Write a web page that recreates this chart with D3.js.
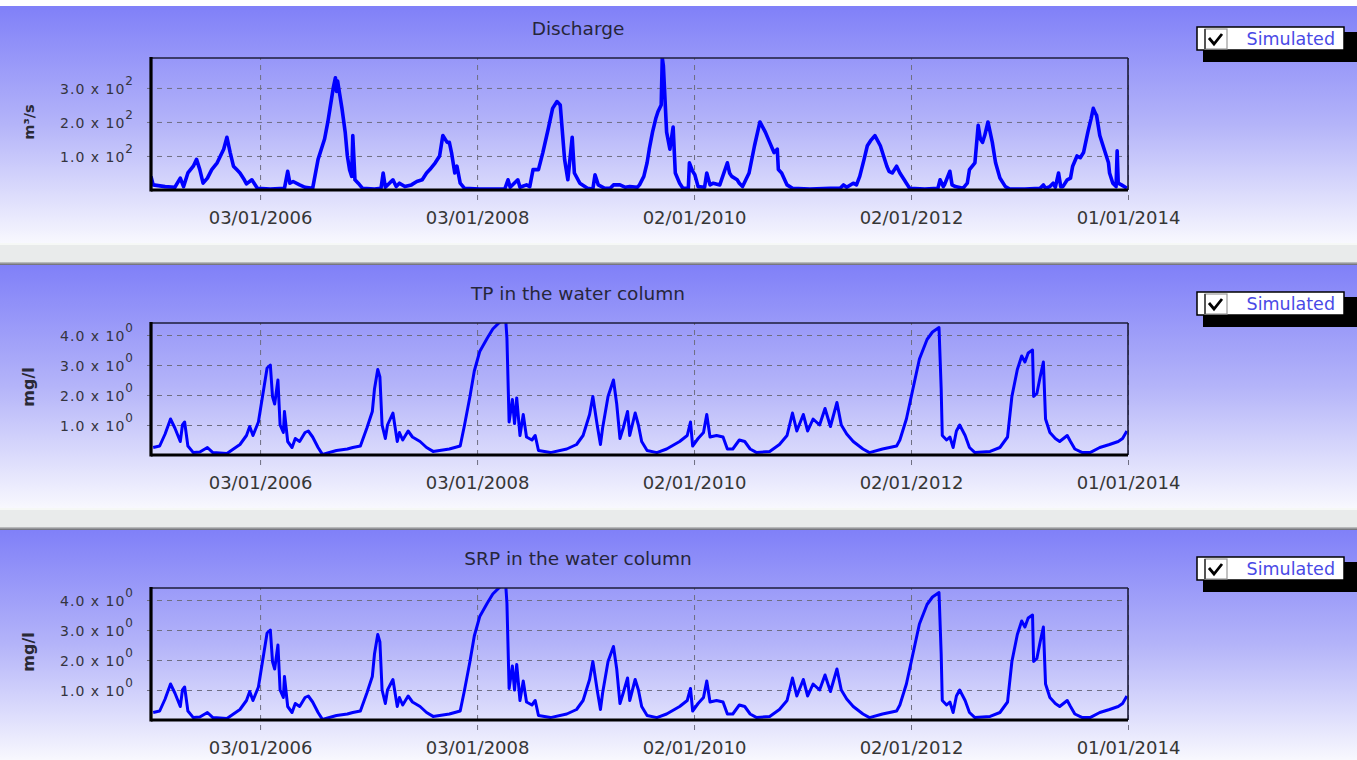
<!DOCTYPE html>
<html>
<head>
<meta charset="utf-8">
<script src="https://cdn.jsdelivr.net/npm/d3@7"></script>
<style>
  html, body { margin: 0; padding: 0; background: #ffffff; overflow: hidden; }
  svg { display: block; }
</style>
</head>
<body>
<svg id="chart" width="1357" height="760"></svg>
<script>
// ---- Data -----------------------------------------------------------------
// Time stamps are decimal years; values in the units of each panel.
const dischargeYears = [2005.00,2005.02,2005.13,2005.22,2005.27,2005.30,2005.34,2005.39,2005.42,2005.45,2005.48,2005.52,2005.56,2005.61,2005.64,2005.67,2005.70,2005.73,2005.76,2005.79,2005.82,2005.86,2005.88,2005.93,2005.98,
  2006.10,2006.23,2006.26,2006.28,2006.31,2006.37,2006.42,2006.49,2006.54,2006.58,2006.60,2006.63,2006.65,2006.68,2006.70,2006.71,2006.72,2006.74,2006.76,2006.79,2006.81,2006.83,2006.85,2006.86,2006.88,2006.91,2006.95,
  2007.06,2007.12,2007.14,2007.16,2007.23,2007.26,2007.29,2007.34,2007.40,2007.45,2007.50,2007.54,2007.57,2007.62,2007.66,2007.69,2007.73,2007.75,2007.77,2007.80,2007.82,2007.85,2007.89,
  2008.03,2008.26,2008.29,2008.31,2008.38,2008.40,2008.46,2008.49,2008.52,2008.57,2008.61,2008.66,2008.70,2008.74,2008.77,2008.79,2008.81,2008.84,2008.88,2008.90,2008.95,
  2009.02,2009.07,2009.09,2009.12,2009.18,2009.23,2009.26,2009.32,2009.37,2009.41,2009.48,2009.50,2009.54,2009.57,2009.59,2009.62,2009.65,2009.67,2009.70,2009.71,2009.72,2009.73,2009.75,2009.78,2009.81,2009.83,2009.87,2009.90,2009.95,2009.96,2009.99,
  2010.01,2010.04,2010.10,2010.12,2010.15,2010.18,2010.24,2010.31,2010.33,2010.35,2010.40,2010.42,2010.45,2010.48,2010.51,2010.56,2010.61,2010.66,2010.70,2010.74,2010.77,2010.78,2010.81,2010.86,2010.91,
  2011.07,2011.26,2011.35,2011.38,2011.41,2011.47,2011.50,2011.53,2011.57,2011.60,2011.63,2011.67,2011.72,2011.75,2011.78,2011.80,2011.83,2011.87,2011.90,2011.94,2011.96,2011.99,
  2012.13,2012.25,2012.27,2012.30,2012.31,2012.36,2012.38,2012.41,2012.48,2012.52,2012.54,2012.59,2012.62,2012.64,2012.66,2012.68,2012.71,2012.73,2012.75,2012.78,2012.82,2012.87,2012.91,
  2013.05,2013.19,2013.22,2013.24,2013.28,2013.31,2013.33,2013.36,2013.38,2013.40,2013.44,2013.47,2013.49,2013.53,2013.56,2013.59,2013.61,2013.63,2013.66,2013.68,2013.70,2013.71,2013.74,2013.77,2013.79,2013.82,2013.83,2013.86,2013.89,2013.90,2013.91,2013.94,2013.99];
const dischargeValues = [40,15,10,8,35,10,50,70,90,60,20,35,60,80,100,120,155,110,70,60,50,30,18,30,5,
  3,5,55,20,25,15,8,5,90,130,150,200,240,300,330,290,320,280,240,170,100,60,40,160,30,20,5,
  3,5,50,8,30,10,20,10,15,25,30,50,60,80,100,160,140,140,110,50,70,20,5,
  3,3,30,8,30,8,15,10,60,60,110,180,240,260,250,170,90,30,155,50,20,
  5,3,45,15,5,5,15,15,8,10,8,15,40,80,120,170,210,230,250,388,365,300,170,120,185,50,20,5,5,80,55,
  45,10,8,50,15,20,15,80,50,40,30,20,10,30,50,130,200,170,140,110,120,60,50,15,5,
  3,5,5,15,8,20,15,40,90,130,145,160,130,100,70,55,50,70,50,30,20,5,
  3,5,30,10,15,55,15,10,5,20,60,80,190,150,140,160,200,170,140,80,35,10,3,
  3,5,15,5,10,20,8,50,10,10,30,35,70,100,95,110,140,170,210,240,225,220,160,130,110,80,50,20,10,115,20,15,5];

const tpYears = [2005.02,2005.08,2005.13,2005.18,2005.22,2005.27,2005.29,2005.31,2005.34,2005.39,2005.45,2005.52,2005.57,2005.70,2005.76,2005.82,2005.88,2005.91,2005.94,2005.99,
  2006.03,2006.07,2006.10,2006.12,2006.14,2006.17,2006.19,2006.22,2006.23,2006.26,2006.30,2006.33,2006.37,2006.42,2006.45,2006.49,2006.54,2006.58,2006.71,2006.81,2006.86,2006.93,2006.99,
  2007.04,2007.06,2007.09,2007.11,2007.13,2007.16,2007.18,2007.23,2007.27,2007.29,2007.32,2007.37,2007.41,2007.48,2007.54,2007.60,2007.75,2007.85,2007.89,2007.94,2007.98,
  2008.03,2008.10,2008.15,2008.22,2008.27,2008.28,2008.30,2008.33,2008.35,2008.37,2008.40,2008.43,2008.46,2008.51,2008.54,2008.57,2008.68,2008.83,2008.92,2008.98,
  2009.04,2009.07,2009.11,2009.14,2009.16,2009.21,2009.26,2009.29,2009.32,2009.35,2009.39,2009.41,2009.46,2009.49,2009.52,2009.57,2009.66,2009.75,2009.87,2009.94,2009.97,2009.99,
  2010.04,2010.09,2010.12,2010.15,2010.21,2010.27,2010.31,2010.36,2010.42,2010.47,2010.52,2010.58,2010.70,2010.79,2010.86,2010.91,2010.95,
  2011.01,2011.05,2011.10,2011.16,2011.21,2011.26,2011.32,2011.36,2011.41,2011.47,2011.56,2011.62,2011.74,2011.87,2011.90,2011.96,
  2012.02,2012.08,2012.15,2012.20,2012.26,2012.28,2012.29,2012.33,2012.36,2012.39,2012.42,2012.45,2012.50,2012.54,2012.59,2012.73,2012.82,2012.89,2012.93,2012.98,
  2013.02,2013.05,2013.08,2013.12,2013.13,2013.16,2013.19,2013.22,2013.24,2013.28,2013.33,2013.37,2013.44,2013.47,2013.51,2013.58,2013.65,2013.74,2013.83,2013.91,2013.95,2013.99];
const tpValues = [0.25,0.3,0.7,1.2,0.9,0.45,1.0,1.1,0.3,0.08,0.1,0.25,0.08,0.05,0.2,0.35,0.65,0.95,0.65,1.1,
  2.0,2.9,3.0,1.95,1.7,2.5,1.0,0.75,1.45,0.45,0.25,0.55,0.45,0.75,0.8,0.6,0.25,0.02,0.15,0.2,0.25,0.3,0.9,
  1.45,2.2,2.85,2.6,1.0,0.55,1.0,1.4,0.45,0.75,0.5,0.8,0.6,0.45,0.25,0.12,0.2,0.3,1.0,1.95,2.8,
  3.45,3.9,4.2,4.45,4.45,3.9,1.1,1.85,1.05,1.9,0.65,1.35,0.6,0.5,0.65,0.15,0.08,0.2,0.35,0.65,
  1.35,1.95,1.0,0.35,0.9,1.95,2.5,1.7,0.55,0.9,1.45,0.65,1.4,1.0,0.45,0.15,0.08,0.2,0.45,0.65,1.1,0.3,
  0.55,0.75,1.35,0.6,0.65,0.6,0.2,0.2,0.5,0.45,0.2,0.08,0.12,0.35,0.65,1.4,0.8,
  1.35,0.8,1.2,1.0,1.55,0.95,1.75,1.0,0.7,0.45,0.2,0.08,0.2,0.3,0.5,1.2,
  2.2,3.2,3.85,4.1,4.25,2.2,0.65,0.5,0.6,0.25,0.8,1.0,0.65,0.25,0.08,0.12,0.25,0.6,1.95,2.85,
  3.3,3.1,3.4,3.5,1.95,2.05,2.6,3.1,1.2,0.75,0.55,0.45,0.65,0.45,0.2,0.08,0.08,0.25,0.35,0.45,0.55,0.8];

const srpYears = tpYears.slice();
const srpValues = [0.25,0.3,0.7,1.2,0.9,0.45,1.0,1.1,0.3,0.08,0.1,0.25,0.08,0.05,0.2,0.35,0.65,0.95,0.65,1.1,
  2.0,2.9,3.0,1.95,1.7,2.5,1.0,0.75,1.45,0.45,0.25,0.55,0.45,0.75,0.8,0.6,0.25,0.02,0.15,0.2,0.25,0.3,0.9,
  1.45,2.2,2.85,2.6,1.0,0.55,1.0,1.35,0.45,0.75,0.5,0.8,0.6,0.45,0.25,0.12,0.2,0.3,1.0,1.95,2.8,
  3.45,3.9,4.2,4.45,4.45,3.9,1.05,1.8,1.0,1.85,0.65,1.3,0.6,0.5,0.65,0.15,0.08,0.2,0.35,0.65,
  1.35,1.95,1.0,0.35,0.9,1.95,2.45,1.7,0.55,0.9,1.4,0.65,1.35,1.0,0.45,0.15,0.08,0.2,0.45,0.65,1.05,0.3,
  0.55,0.75,1.3,0.6,0.65,0.6,0.2,0.2,0.5,0.45,0.2,0.08,0.12,0.35,0.65,1.4,0.8,
  1.35,0.8,1.2,1.0,1.5,0.95,1.7,1.0,0.7,0.45,0.2,0.08,0.2,0.3,0.5,1.2,
  2.2,3.2,3.85,4.1,4.25,2.2,0.65,0.5,0.6,0.25,0.8,1.0,0.65,0.25,0.08,0.12,0.25,0.6,1.95,2.85,
  3.3,3.1,3.4,3.5,1.95,2.05,2.6,3.1,1.2,0.75,0.55,0.45,0.65,0.45,0.2,0.08,0.08,0.25,0.35,0.45,0.55,0.8];

const panelTitles = ["Discharge", "TP in the water column", "SRP in the water column"];
const unitLabels = ["m\u00B3/s", "mg/l", "mg/l"];
const dischargeTicks = [100, 200, 300];
const concentrationTicks = [1, 2, 3, 4];
const tickExponents = [2, 0, 0];
const yMaxima = [388, 4.4, 4.4];
const dateTicks = ["2006-01-03", "2008-01-03", "2010-01-02", "2012-01-02", "2014-01-01"];
const timeRange = ["2005-01-01", "2014-01-01"];
const legendLabel = "Simulated";

// ---- Layout ---------------------------------------------------------------
const svg = d3.select("#chart");
const plotLeft = 151, plotRight = 1128, plotH = 132;
const plotTops = [58, 323, 588];
const panelTops = [6, 265, 530];
const panelBottoms = [243, 508, 760];
const unitFontSizes = [14.5, 16, 16];
const parseDay = d3.utcParse("%Y-%m-%d");
const fmtDay = d3.utcFormat("%d/%m/%Y");

function yearToDate(y) {
  const yr = Math.floor(y + 1e-9);
  const s = Date.UTC(yr, 0, 1), e = Date.UTC(yr + 1, 0, 1);
  return new Date(s + (y - yr) * (e - s));
}

const x = d3.scaleUtc()
  .domain(timeRange.map(parseDay))
  .range([plotLeft, plotRight]);

const defs = svg.append("defs");
const grad = defs.append("linearGradient")
  .attr("id", "panelBg").attr("x1", 0).attr("y1", 0).attr("x2", 0).attr("y2", 1);
grad.append("stop").attr("offset", 0).attr("stop-color", "#8080f8");
grad.append("stop").attr("offset", 0.5).attr("stop-color", "#b4b4f9");
grad.append("stop").attr("offset", 1).attr("stop-color", "#f8f8fe");

const sepGrad = defs.append("linearGradient")
  .attr("id", "sepShade").attr("x1", 0).attr("y1", 0).attr("x2", 0).attr("y2", 1);
sepGrad.append("stop").attr("offset", 0).attr("stop-color", "#c8caca");
sepGrad.append("stop").attr("offset", 1).attr("stop-color", "#66666e");

// separator strips between the panels
[0, 1].forEach(i => {
  const top = panelBottoms[i], bottom = panelTops[i + 1];
  svg.append("rect").attr("x", 0).attr("y", top).attr("width", 1357).attr("height", bottom - top)
    .attr("fill", "#e9ebeb");
  svg.append("rect").attr("x", 0).attr("y", top).attr("width", 1357).attr("height", 2)
    .attr("fill", "#f6f8f6");
  svg.append("rect").attr("x", 0).attr("y", bottom - 3).attr("width", 1357).attr("height", 3)
    .attr("fill", "url(#sepShade)");
});

const series = [
  { years: dischargeYears, values: dischargeValues, ticks: dischargeTicks, width: 3.6 },
  { years: tpYears, values: tpValues, ticks: concentrationTicks, width: 3 },
  { years: srpYears, values: srpValues, ticks: concentrationTicks, width: 3 }
];

series.forEach((s, i) => {
  const pTop = plotTops[i], pBottom = pTop + plotH;
  const g = svg.append("g");

  g.append("rect").attr("x", 0).attr("y", panelTops[i])
    .attr("width", 1357).attr("height", panelBottoms[i] - panelTops[i])
    .attr("fill", "url(#panelBg)");

  const y = d3.scaleLinear().domain([0, yMaxima[i]]).range([pBottom, pTop]);

  // horizontal dashed grid + tick labels via the left axis
  const exp = tickExponents[i];
  const yAxis = d3.axisLeft(y)
    .tickValues(s.ticks)
    .tickSizeInner(-(plotRight - plotLeft + 4))
    .tickSizeOuter(0)
    .tickPadding(13)
    .tickFormat(d => (d / Math.pow(10, exp)).toFixed(1) + " x 10");
  const ya = g.append("g").attr("transform", `translate(${plotLeft - 4},0)`).call(yAxis);
  ya.select(".domain").remove();
  ya.selectAll(".tick line")
    .attr("stroke", "#6e6e82").attr("stroke-width", 1).attr("stroke-dasharray", "5,5");
  ya.selectAll(".tick text")
    .attr("fill", "#34343e")
    .attr("font-family", "DejaVu Sans, sans-serif")
    .attr("font-size", 14)
    .attr("letter-spacing", 1)
    .attr("dy", "0.4em")
    .each(function () {
      d3.select(this).append("tspan")
        .attr("font-size", 12)
        .attr("dy", "-0.75em")
        .attr("dx", 0)
        .text(exp);
    });

  // vertical dashed grid and date labels via the bottom axis
  const xAxis = d3.axisBottom(x)
    .tickValues(dateTicks.map(parseDay))
    .tickSizeInner(-(plotH + 10))
    .tickSizeOuter(0)
    .tickPadding(11)
    .tickFormat(fmtDay);
  const xa = g.append("g").attr("transform", `translate(0,${pBottom + 10})`).call(xAxis);
  xa.select(".domain").remove();
  xa.selectAll(".tick line")
    .attr("stroke", "#6e6e82").attr("stroke-width", 1).attr("stroke-dasharray", "5,5");
  xa.selectAll(".tick text")
    .attr("fill", "#363636")
    .attr("font-family", "DejaVu Sans, sans-serif")
    .attr("font-size", 18)
    .attr("y", 11);

  // series line, clipped to the plot frame
  const clipId = "clip" + i;
  defs.append("clipPath").attr("id", clipId)
    .append("rect").attr("x", plotLeft).attr("y", pTop)
    .attr("width", plotRight - plotLeft).attr("height", plotH);
  const pts = s.years.map((t, k) => [yearToDate(t), s.values[k]]);
  const line = d3.line().x(d => x(d[0])).y(d => y(d[1]));
  g.append("path").datum(pts)
    .attr("clip-path", `url(#${clipId})`)
    .attr("fill", "none")
    .attr("stroke", "#0000ff")
    .attr("stroke-width", s.width)
    .attr("stroke-linejoin", "round")
    .attr("d", line);

  // plot frame: thin top/right, heavy left/bottom
  g.append("line").attr("x1", plotLeft).attr("x2", plotRight).attr("y1", pTop).attr("y2", pTop)
    .attr("stroke", "#1c1c3a").attr("stroke-width", 1.6);
  g.append("line").attr("x1", plotRight).attr("x2", plotRight).attr("y1", pTop).attr("y2", pBottom)
    .attr("stroke", "#1c1c3a").attr("stroke-width", 1.6);
  g.append("line").attr("x1", plotLeft).attr("x2", plotLeft).attr("y1", pTop - 1).attr("y2", pBottom + 1.5)
    .attr("stroke", "#000").attr("stroke-width", 3.2);
  g.append("line").attr("x1", plotLeft).attr("x2", plotRight).attr("y1", pBottom).attr("y2", pBottom)
    .attr("stroke", "#000").attr("stroke-width", 3.2);

  // title
  g.append("text").attr("x", 578).attr("y", pTop - 23)
    .attr("text-anchor", "middle")
    .attr("font-family", "DejaVu Sans, sans-serif").attr("font-size", 18.5)
    .attr("fill", "#26263a")
    .text(panelTitles[i]);

  // unit label
  g.append("text")
    .attr("transform", `translate(34,${pTop + plotH / 2 - 2}) rotate(-90)`)
    .attr("text-anchor", "middle")
    .attr("font-family", "DejaVu Sans, sans-serif").attr("font-size", unitFontSizes[i])
    .attr("font-weight", "bold")
    .attr("fill", "#2a2a36")
    .text(unitLabels[i]);

  // legend
  const lx = 1197, ly = pTop - 31, lw = 147, lh = 23;
  g.append("rect").attr("x", lx + 6).attr("y", ly + 5).attr("width", 160).attr("height", lh + 7)
    .attr("fill", "#000");
  g.append("rect").attr("x", lx).attr("y", ly).attr("width", lw).attr("height", lh)
    .attr("fill", "#fff").attr("stroke", "#000").attr("stroke-width", 1.5);
  g.append("rect").attr("x", lx + 8).attr("y", ly + 2).attr("width", 22).attr("height", lh - 3)
    .attr("fill", "#fff").attr("stroke", "#9a9a9a").attr("stroke-width", 1.2);
  g.append("line").attr("x1", lx + 8).attr("x2", lx + 8).attr("y1", ly + 2).attr("y2", ly + lh - 1)
    .attr("stroke", "#555").attr("stroke-width", 2);
  g.append("path")
    .attr("d", `M${lx + 12},${ly + 11} L${lx + 17},${ly + 17} L${lx + 25},${ly + 7}`)
    .attr("fill", "none").attr("stroke", "#000").attr("stroke-width", 2.8);
  g.append("text").attr("x", lx + 138).attr("y", ly + 18)
    .attr("text-anchor", "end")
    .attr("font-family", "DejaVu Sans, sans-serif").attr("font-size", 17.5)
    .attr("fill", "#4a4ae6")
    .text(legendLabel);
});
</script>
</body>
</html>
